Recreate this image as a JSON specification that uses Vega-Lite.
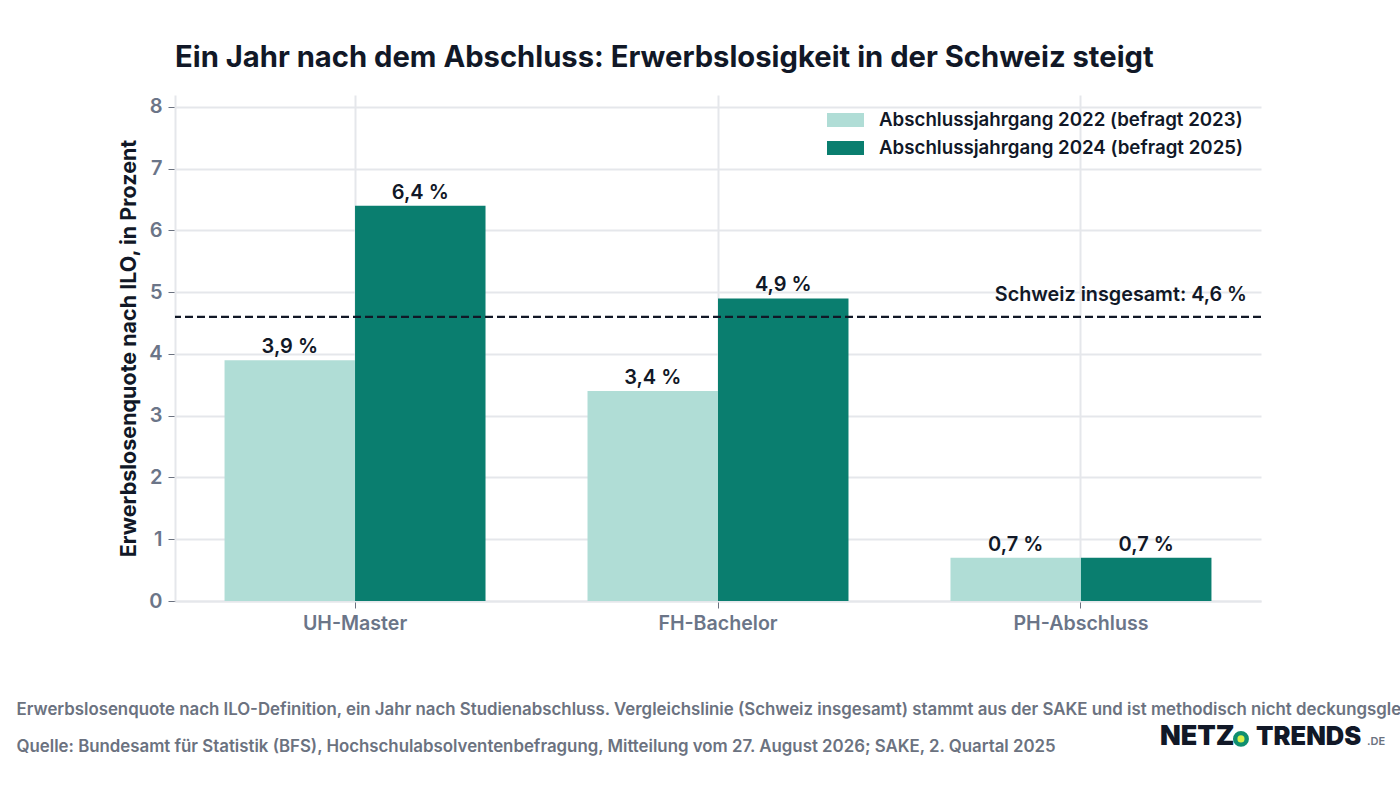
{
  "$schema": "https://vega.github.io/schema/vega-lite/v6.json",
  "width": 1086,
  "height": 506,
  "autosize": "none",
  "padding": {"left": 175, "right": 139, "top": 95, "bottom": 187},
  "background": "white",
  "title": {
    "text": "Ein Jahr nach dem Abschluss: Erwerbslosigkeit in der Schweiz steigt",
    "anchor": "start",
    "frame": "group",
    "font": "Inter",
    "fontSize": 29.2,
    "fontWeight": 700,
    "color": "#111827",
    "offset": 22
  },
  "config": {
    "font": "Inter",
    "view": {"stroke": null}
  },
  "datasets": {
    "quoten": [
      {"abschluss": "UH-Master", "jahrgang": "Abschlussjahrgang 2022 (befragt 2023)", "quote": 3.9, "label": "3,9 %"},
      {"abschluss": "UH-Master", "jahrgang": "Abschlussjahrgang 2024 (befragt 2025)", "quote": 6.4, "label": "6,4 %"},
      {"abschluss": "FH-Bachelor", "jahrgang": "Abschlussjahrgang 2022 (befragt 2023)", "quote": 3.4, "label": "3,4 %"},
      {"abschluss": "FH-Bachelor", "jahrgang": "Abschlussjahrgang 2024 (befragt 2025)", "quote": 4.9, "label": "4,9 %"},
      {"abschluss": "PH-Abschluss", "jahrgang": "Abschlussjahrgang 2022 (befragt 2023)", "quote": 0.7, "label": "0,7 %"},
      {"abschluss": "PH-Abschluss", "jahrgang": "Abschlussjahrgang 2024 (befragt 2025)", "quote": 0.7, "label": "0,7 %"}
    ],
    "schweiz": [
      {"abschluss": "PH-Abschluss", "quote": 4.6, "label": "Schweiz insgesamt: 4,6 %"}
    ],
    "logo": [
      {"abschluss": "PH-Abschluss", "hoehe": -2.33}
    ]
  },
  "layer": [
    {
      "data": {"name": "quoten"},
      "mark": {"type": "bar"},
      "encoding": {
        "x": {
          "field": "abschluss",
          "type": "nominal",
          "sort": null,
          "scale": {
            "domain": ["UH-Master", "FH-Bachelor", "PH-Abschluss"],
            "paddingInner": 0.281,
            "paddingOuter": 0.1365
          },
          "axis": {
            "title": [
              "Erwerbslosenquote nach ILO-Definition, ein Jahr nach Studienabschluss. Vergleichslinie (Schweiz insgesamt) stammt aus der SAKE und ist methodisch nicht deckungsgleich.",
              "Quelle: Bundesamt für Statistik (BFS), Hochschulabsolventenbefragung, Mitteilung vom 27. August 2026; SAKE, 2. Quartal 2025"
            ],
            "titleFont": "Inter",
            "titleFontSize": 16.83,
            "titleFontWeight": 600,
            "titleColor": "#6b7280",
            "titleAlign": "left",
            "titleBaseline": "alphabetic",
            "titleLineHeight": 37,
            "titleX": -159,
            "titleY": 113,
            "labelAngle": 0,
            "labelFont": "Inter",
            "labelFontSize": 19.6,
            "labelFontWeight": 600,
            "labelColor": "#6b7588",
            "labelPadding": 6,
            "tickColor": "#6b7280",
            "tickSize": 7,
            "domainColor": "#e5e7eb",
            "domainWidth": 2,
            "grid": true,
            "gridColor": "#e5e7eb",
            "gridWidth": 2
          }
        },
        "xOffset": {
          "field": "jahrgang",
          "type": "nominal",
          "scale": {"paddingInner": 0, "paddingOuter": 0}
        },
        "y": {
          "field": "quote",
          "type": "quantitative",
          "scale": {"domain": [0, 8.194], "nice": false},
          "axis": {
            "title": "Erwerbslosenquote nach ILO, in Prozent",
            "titleFont": "Inter",
            "titleFontSize": 21.5,
            "titleFontWeight": 700,
            "titleColor": "#111827",
            "titlePadding": 8,
            "values": [0, 1, 2, 3, 4, 5, 6, 7, 8],
            "format": "d",
            "labelFont": "Inter",
            "labelFontSize": 20,
            "labelFontWeight": 600,
            "labelColor": "#6b7588",
            "labelPadding": 6,
            "tickColor": "#6b7280",
            "tickSize": 7,
            "domainColor": "#e5e7eb",
            "domainWidth": 2,
            "grid": true,
            "gridColor": "#e5e7eb",
            "gridWidth": 2
          }
        },
        "color": {
          "field": "jahrgang",
          "type": "nominal",
          "scale": {"range": ["#b0ddd6", "#0a7e6f"]},
          "legend": {
            "title": null,
            "orient": "none",
            "legendX": 652,
            "legendY": 14,
            "symbolType": "M-1,-0.38H1V0.38H-1Z",
            "symbolSize": 1369,
            "symbolOpacity": 1,
            "symbolStrokeWidth": 0,
            "clipHeight": 22,
            "rowPadding": 6,
            "labelFont": "Inter",
            "labelFontSize": 18.7,
            "labelFontWeight": 600,
            "labelColor": "#111827",
            "labelLimit": 420,
            "labelOffset": 15
          }
        }
      }
    },
    {
      "data": {"name": "quoten"},
      "mark": {
        "type": "text",
        "font": "Inter",
        "fontSize": 20,
        "fontWeight": 600,
        "color": "#111827",
        "baseline": "alphabetic",
        "dy": -7
      },
      "encoding": {
        "x": {"field": "abschluss", "type": "nominal", "sort": null},
        "xOffset": {"field": "jahrgang", "type": "nominal"},
        "y": {"field": "quote", "type": "quantitative"},
        "text": {"field": "label"}
      }
    },
    {
      "data": {"name": "schweiz"},
      "mark": {"type": "rule", "color": "#111827", "strokeWidth": 2.2, "strokeDash": [8, 4]},
      "encoding": {
        "y": {"field": "quote", "type": "quantitative"}
      }
    },
    {
      "data": {"name": "schweiz"},
      "mark": {
        "type": "text",
        "font": "Inter",
        "fontSize": 19.8,
        "fontWeight": 600,
        "color": "#111827",
        "align": "right",
        "baseline": "alphabetic",
        "dx": 166,
        "dy": -16
      },
      "encoding": {
        "x": {"field": "abschluss", "type": "nominal", "sort": null},
        "y": {"field": "quote", "type": "quantitative"},
        "text": {"field": "label"}
      }
    },
    {
      "data": {"name": "logo"},
      "mark": {"type": "text", "font": "Inter", "fontSize": 27, "fontWeight": 900, "color": "#111827", "align": "left", "baseline": "alphabetic", "dx": 79},
      "encoding": {
        "x": {"field": "abschluss", "type": "nominal", "sort": null},
        "y": {"field": "hoehe", "type": "quantitative"},
        "text": {"value": "NETZ"}
      }
    },
    {
      "data": {"name": "logo"},
      "mark": {"type": "point", "filled": true, "size": 254, "color": "#0f8f6f", "opacity": 1, "xOffset": 160, "yOffset": -6},
      "encoding": {
        "x": {"field": "abschluss", "type": "nominal", "sort": null},
        "y": {"field": "hoehe", "type": "quantitative"}
      }
    },
    {
      "data": {"name": "logo"},
      "mark": {"type": "point", "filled": true, "size": 50, "color": "#d7f04a", "opacity": 1, "xOffset": 160, "yOffset": -6},
      "encoding": {
        "x": {"field": "abschluss", "type": "nominal", "sort": null},
        "y": {"field": "hoehe", "type": "quantitative"}
      }
    },
    {
      "data": {"name": "logo"},
      "mark": {"type": "text", "font": "Inter", "fontSize": 25.5, "fontWeight": 900, "color": "#111827", "align": "left", "baseline": "alphabetic", "dx": 175},
      "encoding": {
        "x": {"field": "abschluss", "type": "nominal", "sort": null},
        "y": {"field": "hoehe", "type": "quantitative"},
        "text": {"value": "TRENDS"}
      }
    },
    {
      "data": {"name": "logo"},
      "mark": {"type": "text", "font": "Inter", "fontSize": 11, "fontWeight": 600, "color": "#6b7280", "align": "left", "baseline": "alphabetic", "dx": 286},
      "encoding": {
        "x": {"field": "abschluss", "type": "nominal", "sort": null},
        "y": {"field": "hoehe", "type": "quantitative"},
        "text": {"value": ".DE"}
      }
    }
  ]
}
